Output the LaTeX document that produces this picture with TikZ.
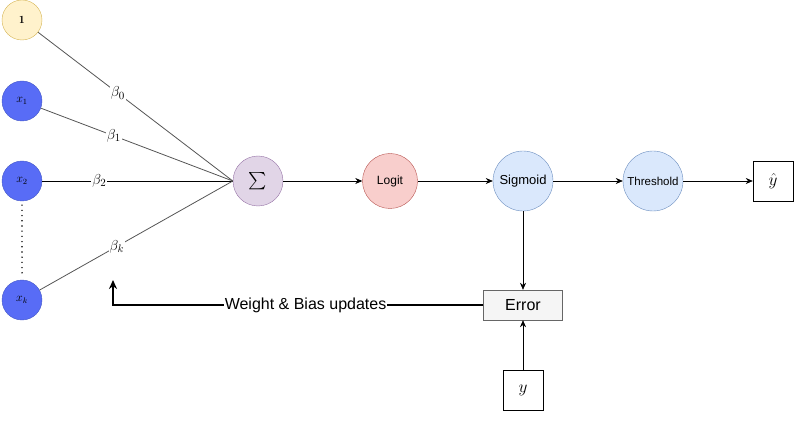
\documentclass[tikz,border=0pt]{standalone}
\usepackage{amsmath}
\usepackage{fontspec}
\setsansfont{Liberation Sans}
\usetikzlibrary{arrows.meta}

\definecolor{inpblue}{RGB}{88,108,246}
\definecolor{inpline}{RGB}{70,90,200}
\definecolor{biasfill}{RGB}{255,242,204}
\definecolor{biasline}{RGB}{214,182,86}
\definecolor{sumfill}{RGB}{225,213,231}
\definecolor{sumline}{RGB}{150,115,166}
\definecolor{logfill}{RGB}{248,206,204}
\definecolor{logline}{RGB}{184,84,80}
\definecolor{sigfill}{RGB}{218,232,252}
\definecolor{sigline}{RGB}{108,142,191}
\definecolor{errfill}{RGB}{245,245,245}
\definecolor{errline}{RGB}{102,102,102}
\definecolor{wline}{RGB}{85,85,85}

\newcommand{\fsz}[1]{\fontsize{#1}{#1}\selectfont}

\tikzset{
  inp/.style={circle, draw=inpline, fill=inpblue, minimum size=40pt, inner sep=0pt, font=\fsz{12}},
  unit/.style={circle, draw, minimum size=#1, inner sep=0pt, font=\sffamily\fsz{12}},
  outbox/.style={draw, fill=white, minimum width=40pt, minimum height=40pt, inner sep=0pt, font=\fsz{17}},
  wt/.style={fill=white, text=black, inner sep=1pt, font=\fsz{15}},
  flow/.style={semithick, -{Stealth[length=7pt,width=6pt]}}
}

\begin{document}
\begin{tikzpicture}[x=1pt, y=-1pt]
  \useasboundingbox (0,0) rectangle (806,422);

  % Inputs
  \node[circle, draw=biasline, fill=biasfill, minimum size=40pt, inner sep=0pt, font=\fsz{11}] (one) at (22,20) {$\mathbf{1}$};
  \node[inp] (x1) at (22,101) {$x_1$};
  \node[inp] (x2) at (22,181) {$x_2$};
  \node[inp] (xk) at (22,300) {$x_k$};
  \draw[line width=1.6pt, line cap=round, dash pattern=on 0pt off 5.2pt, shorten <=4pt, shorten >=4pt] (x2) -- (xk);

  % Units
  \node[unit=50pt, draw=sumline, fill=sumfill, font=\fsz{19}] (sum) at (258,181) {$\textstyle\sum$};
  \node[unit=55pt, draw=logline, fill=logfill] (logit) at (390,181) {Logit};
  \node[unit=60pt, draw=sigline, fill=sigfill, font=\sffamily\fsz{13}] (sig) at (523,181) {Sigmoid};
  \node[unit=60pt, draw=sigline, fill=sigfill, font=\sffamily\fsz{11.5}] (thr) at (653,181) {Threshold};
  \node[outbox] (yhat) at (773,181) {$\hat{y}$};

  % Error and target
  \node[draw=errline, fill=errfill, minimum width=79pt, minimum height=30pt, font=\sffamily\fsz{16}] (err) at (523,305) {Error};
  \node[outbox] (y) at (523,390) {$y$};

  % Weights
  \draw[wline, thick] (one) -- (sum.west) node[wt, pos=0.41] {$\beta_0$};
  \draw[wline, thick] (x1) -- (sum.west) node[wt, pos=0.38] {$\beta_1$};
  \draw[thick] (x2) -- (sum.west) node[wt, pos=0.3] {$\beta_2$};
  \draw[wline, thick] (xk) -- (sum.west) node[wt, pos=0.4] {$\beta_k$};

  % Forward pass
  \draw[flow] (sum) -- (logit);
  \draw[flow] (logit) -- (sig);
  \draw[flow] (sig) -- (thr);
  \draw[flow] (thr) -- (yhat);
  \draw[flow] (sig) -- (err);
  \draw[flow] (y) -- (err);

  % Update
  \coordinate (upd) at (113,280);
  \draw[line width=1.5pt, -{Stealth[length=9pt,width=8pt]}] (err.west) -| (upd)
    node[pos=0.24, fill=white, inner sep=1pt, font=\sffamily\fsz{16}] {Weight \& Bias updates};
\end{tikzpicture}
\end{document}
